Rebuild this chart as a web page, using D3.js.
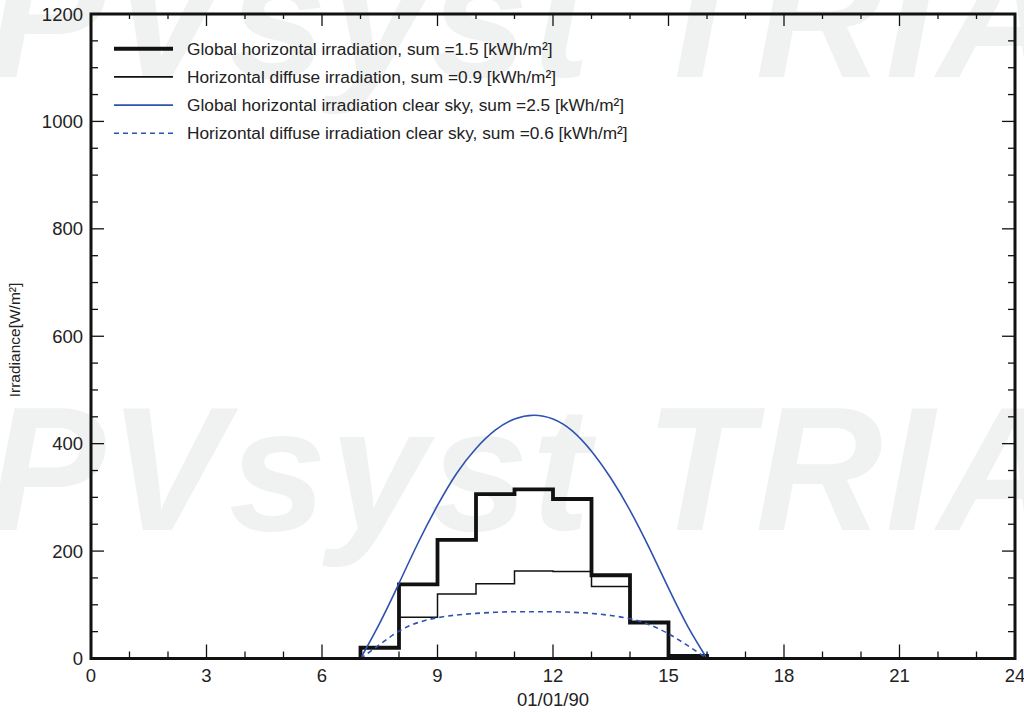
<!DOCTYPE html>
<html>
<head>
<meta charset="utf-8">
<script src="https://cdn.jsdelivr.net/npm/d3@7"></script>
<style>
  html, body { margin: 0; padding: 0; background: #fff; }
  svg { display: block; }
  .lbl { font-family: "Liberation Sans", Arial, Helvetica, sans-serif; }
</style>
</head>
<body>
<svg id="chart" width="1024" height="712"></svg>
<script>
// ---- Data ----
const stepHours = [7, 8, 9, 10, 11, 12, 13, 14, 15];
const globalHoriz = [20, 138, 221, 306, 315, 297, 155, 67, 5];
const diffuseHoriz = [20, 77, 120, 139, 163, 162, 134, 66, 5];

const clearHours = [7, 7.5, 8, 8.5, 9, 9.5, 10, 10.5, 11, 11.5, 12, 12.5, 13, 13.5, 14, 14.5, 15, 15.5, 16];
const globalClear = [0, 66, 140, 216, 285, 345, 391, 425, 446, 453, 446, 424, 386, 336, 276, 206, 131, 60, 0];
const diffuseClear = [0, 26, 51, 67, 76, 81, 84, 86, 87, 87, 87, 86, 84, 80, 74, 63, 46, 24, 0];

const xMajorTicks = [0, 3, 6, 9, 12, 15, 18, 21, 24];
const yMajorTicks = [0, 200, 400, 600, 800, 1000, 1200];
const legendLabels = [
  "Global horizontal irradiation, sum =1.5 [kWh/m\u00b2]",
  "Horizontal diffuse irradiation, sum =0.9 [kWh/m\u00b2]",
  "Global horizontal irradiation clear sky, sum =2.5 [kWh/m\u00b2]",
  "Horizontal diffuse irradiation clear sky, sum =0.6 [kWh/m\u00b2]"
];
const xTitle = "01/01/90";
const yTitle = "Irradiance[W/m\u00b2]";
const watermark = "PVsyst TRIAL";

// ---- Layout ----
const svg = d3.select("#chart");
const pLeft = 91, pRight = 1015, pTop = 14, pBottom = 658.5;
const x = d3.scaleLinear().domain([0, 24]).range([pLeft, pRight]);
const y = d3.scaleLinear().domain([0, 1200]).range([pBottom, pTop]);
const blue = "#2f52b0";

// Watermark
[77, 530].forEach(by => {
  svg.append("text")
    .attr("x", -12).attr("y", by)
    .attr("font-family", "Liberation Sans, Arial, sans-serif")
    .attr("font-weight", "bold").attr("font-style", "italic")
    .attr("font-size", 176)
    .attr("letter-spacing", 3)
    .attr("fill", "#f0f2f1")
    .text(watermark);
});

// Series
const stepPts = (vals) => [[stepHours[0], 0]].concat(stepHours.map((h, i) => [h, vals[i]])).concat([[stepHours[stepHours.length - 1] + 1, 0]]);
const stepLine = d3.line().x(d => x(d[0])).y(d => y(d[1])).curve(d3.curveStepAfter);
const smoothLine = d3.line().x(d => x(d[0])).y(d => y(d[1])).curve(d3.curveNatural);

svg.append("path").attr("d", stepLine(stepPts(diffuseHoriz)))
  .attr("fill", "none").attr("stroke", "#111").attr("stroke-width", 1.5);
svg.append("path").attr("d", stepLine(stepPts(globalHoriz)))
  .attr("fill", "none").attr("stroke", "#111").attr("stroke-width", 3.8);
svg.append("path").attr("d", smoothLine(clearHours.map((h, i) => [h, diffuseClear[i]])))
  .attr("fill", "none").attr("stroke", blue).attr("stroke-width", 1.6).attr("stroke-dasharray", "5,4");
svg.append("path").attr("d", smoothLine(clearHours.map((h, i) => [h, globalClear[i]])))
  .attr("fill", "none").attr("stroke", blue).attr("stroke-width", 1.6);

// Ticks (inward, all four sides)
const g = svg.append("g").attr("stroke", "#111").attr("stroke-width", 1.3);
const xMinor = d3.range(0, 25, 1);
const yMinor = d3.range(0, 1201, 50);
xMinor.forEach(h => {
  const len = xMajorTicks.includes(h) ? 14 : 7;
  g.append("line").attr("x1", x(h)).attr("x2", x(h)).attr("y1", pBottom).attr("y2", pBottom - len);
  g.append("line").attr("x1", x(h)).attr("x2", x(h)).attr("y1", pTop).attr("y2", pTop + len - 2);
});
yMinor.forEach(v => {
  const len = yMajorTicks.includes(v) ? 13 : 7;
  g.append("line").attr("y1", y(v)).attr("y2", y(v)).attr("x1", pLeft).attr("x2", pLeft + len);
  g.append("line").attr("y1", y(v)).attr("y2", y(v)).attr("x1", pRight).attr("x2", pRight - len);
});

// Frame
svg.append("rect").attr("x", pLeft).attr("y", pTop).attr("width", pRight - pLeft).attr("height", pBottom - pTop)
  .attr("fill", "none").attr("stroke", "#111").attr("stroke-width", 3);

// Tick labels
svg.append("g").selectAll("text").data(xMajorTicks).join("text")
  .attr("class", "lbl")
  .attr("x", d => x(d)).attr("y", 682)
  .attr("text-anchor", "middle").attr("font-size", 18.5).attr("fill", "#222")
  .text(d => d);
svg.append("g").selectAll("text").data(yMajorTicks).join("text")
  .attr("class", "lbl")
  .attr("x", 83).attr("y", d => y(d) + 6.5)
  .attr("text-anchor", "end").attr("font-size", 18.5).attr("fill", "#222")
  .text(d => d);

// Axis titles
svg.append("text").attr("class", "lbl")
  .attr("x", x(12)).attr("y", 706).attr("text-anchor", "middle")
  .attr("font-size", 18.5).attr("fill", "#222").text(xTitle);
svg.append("text").attr("class", "lbl")
  .attr("transform", "translate(20,340) rotate(-90)").attr("text-anchor", "middle")
  .attr("font-size", 15.5).attr("fill", "#222").text(yTitle);

// Legend
const legStyles = [
  { w: 4, dash: null, c: "#111" },
  { w: 1.6, dash: null, c: "#111" },
  { w: 1.6, dash: null, c: blue },
  { w: 1.6, dash: "5,4", c: blue }
];
const leg = svg.append("g");
legendLabels.forEach((lab, i) => {
  const ly = 48.7 + i * 28.2;
  leg.append("line").attr("x1", 114).attr("x2", 173).attr("y1", ly).attr("y2", ly)
    .attr("stroke", legStyles[i].c).attr("stroke-width", legStyles[i].w)
    .attr("stroke-dasharray", legStyles[i].dash);
  leg.append("text").attr("class", "lbl")
    .attr("x", 187).attr("y", ly + 6)
    .attr("font-size", 17.3).attr("fill", "#222").text(lab);
});
</script>
</body>
</html>
